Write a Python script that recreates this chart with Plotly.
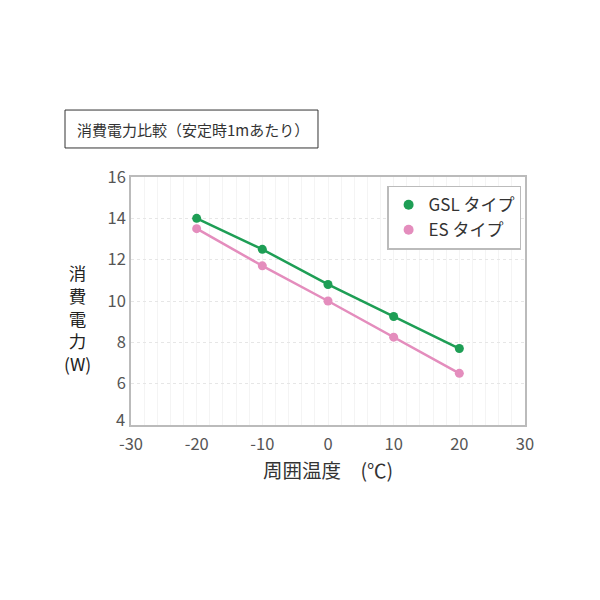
import plotly.graph_objects as go

# 周囲温度 (℃) と消費電力 (W)
temps = [-20, -10, 0, 10, 20]
gsl_watts = [14.0, 12.5, 10.8, 9.25, 7.7]
es_watts = [13.5, 11.7, 10.0, 8.25, 6.5]
series_names = ['GSL タイプ', 'ES タイプ']
x_ticks = [-30, -20, -10, 0, 10, 20, 30]
x_labels = ['-30', '-20', '-10', '0', '10', '20', '30']
y_ticks = [4, 6, 8, 10, 12, 14, 16]

green = '#1e9e55'
pink = '#e48dbd'
font_jp = 'Noto Sans CJK JP'

fig = go.Figure()
for name, vals, col in [(series_names[0], gsl_watts, green), (series_names[1], es_watts, pink)]:
    fig.add_trace(go.Scatter(x=temps, y=vals, mode='lines+markers', showlegend=False,
                             line=dict(color=col, width=2.5),
                             marker=dict(color=col, size=9)))
    # legend entry: dot only
    fig.add_trace(go.Scatter(x=[None], y=[None], mode='markers', name=name,
                             marker=dict(color=col, size=10)))

fig.update_layout(
    width=600, height=600,
    paper_bgcolor='white', plot_bgcolor='white',
    margin=dict(l=123, r=83, t=169, b=183),
    font=dict(family=font_jp, color='#444'),
    legend=dict(x=0.65, y=0.965, xanchor='left', yanchor='top',
                bordercolor='#bbbbbb', borderwidth=1.5, bgcolor='white',
                font=dict(size=17, color='#333'), tracegroupgap=0,
                itemwidth=30),
)
fig.update_xaxes(range=[-30, 30], tickvals=x_ticks, ticktext=x_labels, ticks='', showline=True,
                 linecolor='#bbbbbb', linewidth=1.5, mirror=True,
                 showgrid=False, zeroline=False, ticklabelstandoff=3,
                 minor=dict(dtick=2, showgrid=True, gridcolor='#f4f4f4', gridwidth=1),
                 tickfont=dict(size=16.5, color='#555'),
                 title=dict(text='周囲温度　(℃)', font=dict(size=19.5, color='#333'), standoff=9))
# 一番下の「4」は元図と同じく少し上げて描くので、軸側のラベルは空にする
y_labels = [''] + [str(v) for v in y_ticks[1:]]
fig.update_yaxes(range=[4, 16], tickvals=y_ticks, ticktext=y_labels, ticks='', showline=True,
                 linecolor='#bbbbbb', linewidth=1.5, mirror=True,
                 gridcolor='#e6e6e6', gridwidth=1, griddash='dot', zeroline=False,
                 tickfont=dict(size=16.5, color='#555'))
fig.add_annotation(text=str(y_ticks[0]), xref='paper', yref='y', x=0, y=y_ticks[0],
                   xanchor='right', yanchor='middle', xshift=-4, yshift=6, showarrow=False,
                   font=dict(size=16.5, color='#555', family=font_jp))

# 縦書きの軸タイトル
fig.add_annotation(text='消<br>費<br>電<br>力<br>(W)', xref='paper', yref='paper',
                   x=-0.135, y=0.43, xanchor='center', yanchor='middle', showarrow=False,
                   font=dict(size=17.5, color='#222', family=font_jp))

# 見出しの枠
fig.add_shape(type='rect', xref='paper', yref='paper', x0=-0.1675, x1=0.4746,
              y0=1.117, y1=1.27, line=dict(color='#333', width=1), fillcolor='white')
fig.add_annotation(text='消費電力比較（安定時1mあたり）', xref='paper', yref='paper',
                   x=-0.142, y=1.19, xanchor='left', yanchor='middle', showarrow=False,
                   font=dict(size=15, color='#333', family=font_jp))

fig.write_html('out.html')
